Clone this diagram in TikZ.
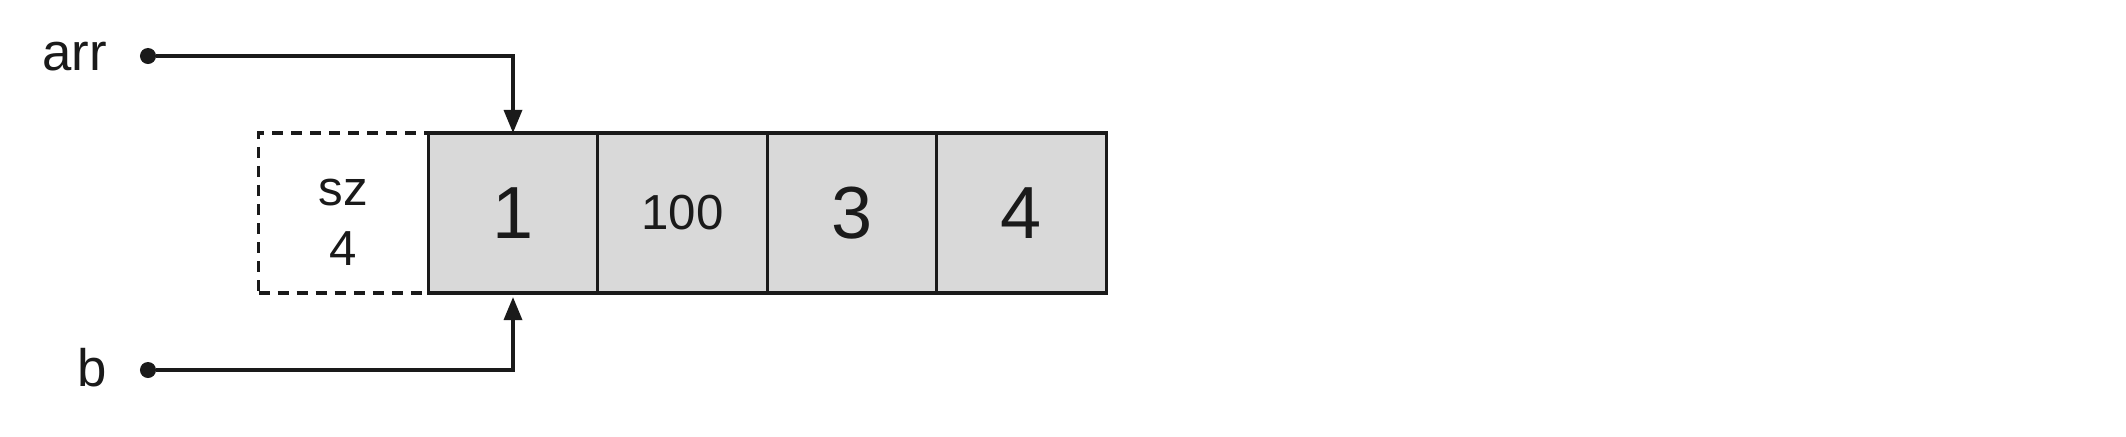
\documentclass[tikz,border=0pt]{standalone}
\usepackage{fontspec}
\setmainfont{Liberation Sans}
\usetikzlibrary{arrows.meta}
\definecolor{cellgray}{HTML}{D9D9D9}
\definecolor{ink}{HTML}{1A1A1A}

\begin{document}
\begin{tikzpicture}[x=0.01cm, y=-0.01cm, line width=0.034cm, draw=ink,
	every node/.style={inner sep=0pt, outer sep=0pt, text=ink},
	cell/.style={rectangle, draw, fill=cellgray, minimum width=1.695cm, minimum height=1.6cm, font=\fontsize{21}{21}\selectfont},
	sizebox/.style={rectangle, draw, dash pattern=on 0.11cm off 0.08cm, minimum width=1.695cm, minimum height=1.6cm},
	ptr/.style={anchor=base east, font=\fontsize{15}{15}\selectfont},
	dot/.style={circle, fill=ink, minimum size=0.16cm},
	link/.style={-{Triangle[length=0.23cm, width=0.18cm]}}]

\useasboundingbox (0,0) rectangle (2126,436);

\node[sizebox](sz) at(343.5,213) {};
\node[align=center, font=\fontsize{14}{17}\selectfont](szval) at(343.5,222) {sz\\4};
\foreach [count=\i] \v in {1,{\fontsize{14}{14}\selectfont 100},3,4}{
	\node[cell](c\i) at(343.5+169.5*\i,213) {\v};
}

\node[ptr](arr) at(107,70) {arr};
\node[ptr](b) at(107,386) {b};
\node[dot](arrdot) at(148,56) {};
\node[dot](bdot) at(148,370) {};

\draw[link] (arrdot) -| (c1.north);
\draw[link, shorten >=0.04cm] (bdot) -| (c1.south);

\end{tikzpicture}
\end{document}
